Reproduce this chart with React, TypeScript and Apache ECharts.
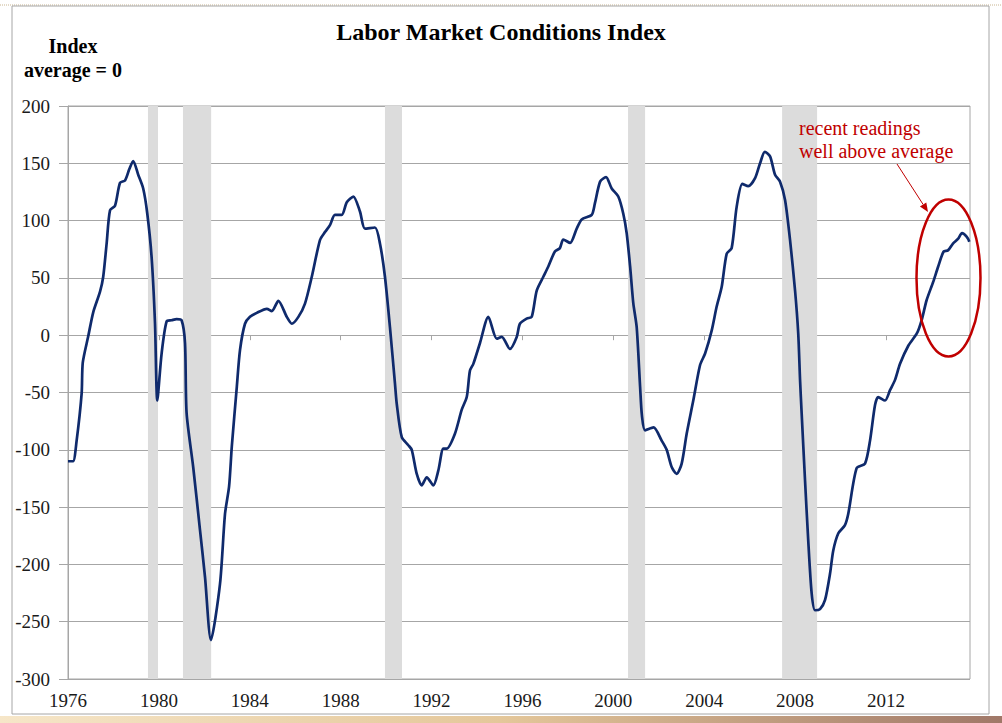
import React, { useEffect, useRef } from "react";
import * as echarts from "echarts";

const TITLE = "Labor Market Conditions Index";
const Y_NAME_LINES = ["Index", "average = 0"];
const NOTE_LINES = ["recent readings", "well above average"];

// decimal year positions along the axis
const years: number[] = [
  1976.0, 1976.22, 1976.38, 1976.6, 1976.65, 1976.89, 1977.11, 1977.41, 1977.55, 1977.7,
  1977.85, 1978.07, 1978.29, 1978.51, 1978.7, 1978.87, 1979.09, 1979.31, 1979.49, 1979.68,
  1979.83, 1979.93, 1980.12, 1980.34, 1980.56, 1980.78, 1981.0, 1981.15, 1981.22, 1981.51,
  1981.81, 1982.03, 1982.29, 1982.69, 1982.91, 1983.09, 1983.21, 1983.43, 1983.57, 1983.79,
  1984.01, 1984.31, 1984.75, 1984.97, 1985.26, 1985.63, 1985.85, 1986.14, 1986.43, 1986.73,
  1987.09, 1987.31, 1987.53, 1987.75, 1988.05, 1988.27, 1988.56, 1988.85, 1989.07, 1989.51,
  1989.73, 1989.95, 1990.17, 1990.39, 1990.47, 1990.69, 1990.98, 1991.13, 1991.35, 1991.57,
  1991.79, 1992.08, 1992.3, 1992.52, 1992.67, 1993.03, 1993.33, 1993.55, 1993.69, 1993.84,
  1994.13, 1994.5, 1994.87, 1995.09, 1995.45, 1995.75, 1995.89, 1996.19, 1996.41, 1996.63,
  1996.92, 1997.14, 1997.43, 1997.65, 1997.8, 1998.1, 1998.39, 1998.61, 1999.05, 1999.19,
  1999.42, 1999.68, 1999.93, 2000.22, 2000.44, 2000.59, 2000.74, 2000.88, 2001.03, 2001.18,
  2001.26, 2001.4, 2001.77, 2002.13, 2002.35, 2002.57, 2002.79, 2003.01, 2003.23, 2003.52,
  2003.82, 2004.04, 2004.33, 2004.55, 2004.77, 2004.99, 2005.21, 2005.43, 2005.68, 2005.94,
  2006.24, 2006.46, 2006.67, 2006.9, 2007.12, 2007.34, 2007.56, 2007.78, 2008.0, 2008.14,
  2008.22, 2008.29, 2008.44, 2008.58, 2008.73, 2008.88, 2009.1, 2009.32, 2009.54, 2009.68,
  2009.9, 2010.19, 2010.34, 2010.71, 2011.08, 2011.3, 2011.52, 2011.66, 2011.96, 2012.18,
  2012.4, 2012.62, 2012.99, 2013.36, 2013.57, 2013.79, 2014.08, 2014.3, 2014.54, 2014.73,
  2014.95, 2015.17, 2015.35, 2015.55, 2015.67,
];

const lmci: number[] = [
  -110, -110, -92, -51, -24, -1, 20, 38, 51, 80,
  109, 113, 133, 135, 145, 152, 140, 128, 106, 68,
  10, -57, -16, 12, 13, 14, 13, -7, -68, -115,
  -170, -211, -266, -217, -156, -132, -97, -45, -13, 10,
  16, 19.5, 23, 21, 30, 16, 10, 16, 27.6, 51,
  83, 90, 96, 105, 105, 116, 121, 108, 93, 94,
  80, 51, 7, -42, -60, -89, -96, -100, -121, -131,
  -124, -131, -118, -99, -99, -86, -65, -54, -31, -25,
  -7, 16, -3, -1.5, -12, -1.5, 10, 14.5, 16, 39,
  51, 60, 73, 76, 83.5, 80.5, 93, 101, 105, 115,
  134, 138, 128, 121, 106, 89, 60, 28, 7, -45,
  -70, -83, -80.5, -92, -100, -115, -121, -112, -86, -57,
  -26, -16, 4, 25, 42, 71, 76, 112, 132, 130,
  137, 150, 160, 156, 140, 134, 118, 83, 39, 1.5,
  -39, -68, -127, -179, -225, -240, -239, -231, -208, -188,
  -173, -166, -156, -116, -112, -92, -61, -54, -57, -48,
  -39, -25, -9, 1.5, 13, 30.5, 46.5, 60, 73, 74,
  80, 84, 89, 86, 81.5,
];

// recession shading (start, end) in axis years
const recessionStart: number[] = [1979.52, 1981.06, 1989.95, 2000.65, 2007.43];
const recessionEnd: number[] = [1979.96, 1982.3, 1990.7, 2001.4, 2008.97];

const X_MIN = 1976;
const X_MAX = 2015.7;
const X_INTERVAL = 4;
const Y_MIN = -300;
const Y_MAX = 200;
const Y_INTERVAL = 50;

const SERIF = "'Liberation Serif', 'Times New Roman', serif";
const RED = "#c00000";

export default function App() {
  const ref = useRef<HTMLDivElement>(null);

  useEffect(() => {
    if (!ref.current) return;
    const chart = echarts.init(ref.current, undefined, { renderer: "svg" });

    const lineData = years.map((y, i) => [y, lmci[i]]);
    const bands = recessionStart.map((s, i) => [{ xAxis: s }, { xAxis: recessionEnd[i] }]);

    // arrow geometry
    const ax1 = 897, ay1 = 164, ax2 = 928, ay2 = 212;
    const dx = ax2 - ax1, dy = ay2 - ay1;
    const len = Math.sqrt(dx * dx + dy * dy);
    const ux = dx / len, uy = dy / len;
    const headL = 9, headW = 3.8;
    const bx = ax2 - ux * headL, by = ay2 - uy * headL;

    const txt = (x: number, y: number, text: string, extra: any) => ({
      type: "text",
      x,
      y,
      z: 100,
      style: {
        text,
        fontFamily: SERIF,
        textVerticalAlign: "middle",
        ...extra,
      },
    });

    chart.setOption({
      animation: false,
      backgroundColor: "#ffffff",
      grid: {
        left: 68,
        top: 106,
        right: 32,
        bottom: 44,
        show: true,
        borderColor: "#a6a6a6",
        borderWidth: 1,
        backgroundColor: "transparent",
      },
      xAxis: {
        type: "value",
        min: X_MIN,
        max: X_MAX,
        interval: X_INTERVAL,
        axisLine: { show: true, lineStyle: { color: "#a6a6a6", width: 1 } },
        axisTick: { show: true, length: 5, inside: false, lineStyle: { color: "#a6a6a6" } },
        splitLine: { show: false },
        axisLabel: {
          show: true,
          showMaxLabel: false,
          margin: 12,
          color: "#1a1a1a",
          fontFamily: SERIF,
          fontSize: 19,
          formatter: (v: number) => String(Math.round(v)),
        },
      },
      yAxis: {
        type: "value",
        min: Y_MIN,
        max: Y_MAX,
        interval: Y_INTERVAL,
        axisLine: { show: true, lineStyle: { color: "#a6a6a6", width: 1 } },
        axisTick: { show: true, length: 9, inside: false, lineStyle: { color: "#a6a6a6" } },
        splitLine: { show: true, lineStyle: { color: "#a6a6a6", width: 1 } },
        axisLabel: {
          margin: 18,
          color: "#1a1a1a",
          fontFamily: SERIF,
          fontSize: 19,
        },
      },
      series: [
        {
          type: "line",
          data: lineData,
          showSymbol: false,
          smooth: 0.25,
          z: 5,
          lineStyle: { color: "#0f2a6c", width: 2.7 },
          markArea: {
            silent: true,
            itemStyle: { color: "#dcdcdc" },
            data: bands,
          },
        },
      ],
      graphic: [
        {
          type: "line",
          shape: { x1: 0, y1: 5, x2: 1002, y2: 5 },
          style: { stroke: "#c8b490", lineWidth: 1, lineDash: [1, 1] },
          silent: true,
        },
        {
          type: "rect",
          shape: { x: 12, y: 6, width: 977, height: 708 },
          style: { fill: "none", stroke: "#a6a6a6", lineWidth: 1 },
          silent: true,
        },
        {
          type: "rect",
          shape: { x: 0, y: 716, width: 1002, height: 7 },
          style: {
            fill: new echarts.graphic.LinearGradient(0, 0, 1, 0, [
              { offset: 0, color: "#f6e6c8" },
              { offset: 0.5, color: "#e4c79a" },
              { offset: 1, color: "#a07868" },
            ]),
          },
          silent: true,
        },
        txt(501, 32, TITLE, { fontWeight: "bold", fontSize: 24, fill: "#000", textAlign: "center" }),
        txt(73, 46, Y_NAME_LINES[0], { fontWeight: "bold", fontSize: 20, fill: "#000", textAlign: "center" }),
        txt(73, 70, Y_NAME_LINES[1], { fontWeight: "bold", fontSize: 20, fill: "#000", textAlign: "center" }),
        txt(799, 128, NOTE_LINES[0], { fontSize: 20, fill: RED, textAlign: "left" }),
        txt(799, 151, NOTE_LINES[1], { fontSize: 20, fill: RED, textAlign: "left" }),
        {
          type: "line",
          z: 100,
          shape: { x1: ax1, y1: ay1, x2: bx, y2: by },
          style: { stroke: RED, lineWidth: 1 },
        },
        {
          type: "polygon",
          z: 100,
          shape: {
            points: [
              [ax2, ay2],
              [bx + uy * headW, by - ux * headW],
              [bx - uy * headW, by + ux * headW],
            ],
          },
          style: { fill: RED },
        },
        {
          type: "ellipse",
          z: 100,
          shape: { cx: 948.5, cy: 278, rx: 32, ry: 78.5 },
          style: { fill: "none", stroke: RED, lineWidth: 2.5 },
        },
      ],
    });

    return () => chart.dispose();
  }, []);

  return (
    <div
      ref={ref}
      style={{ position: "fixed", left: 0, top: 0, width: 1002, height: 723 }}
    />
  );
}
